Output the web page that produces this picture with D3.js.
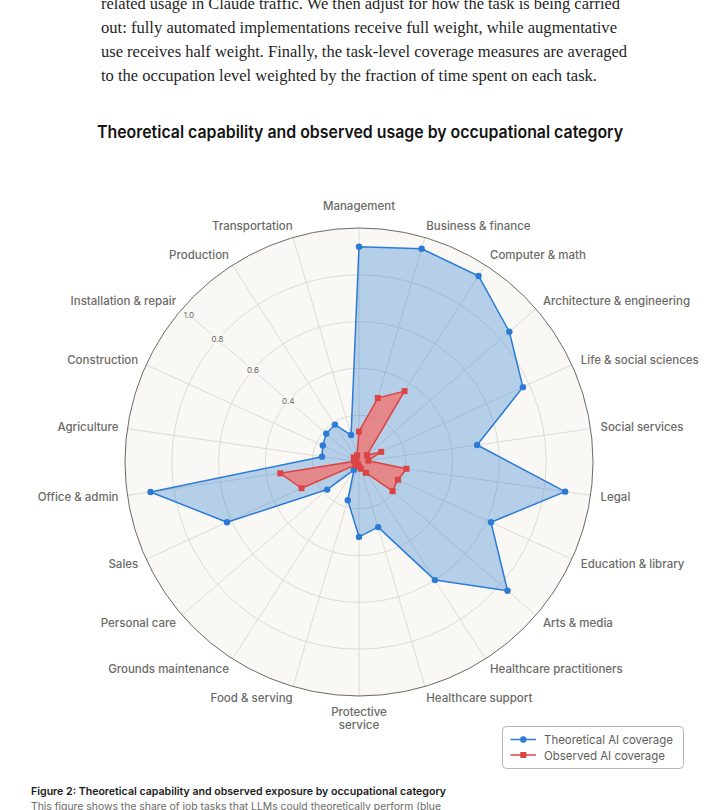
<!DOCTYPE html>
<html>
<head>
<meta charset="utf-8">
<script src="https://cdn.jsdelivr.net/npm/d3@7"></script>
<style>
  html, body { margin: 0; padding: 0; background: #ffffff; }
  svg { display: block; }
</style>
</head>
<body>
<svg id="chart" width="720" height="810"></svg>
<script>
// ---------- data ----------
const paragraphLines = [
  "related usage in Claude traffic. We then adjust for how the task is being carried",
  "out: fully automated implementations receive full weight, while augmentative",
  "use receives half weight. Finally, the task-level coverage measures are averaged",
  "to the occupation level weighted by the fraction of time spent on each task."
];
const chartTitle = "Theoretical capability and observed usage by occupational category";
const categories = [
  "Management", "Business & finance", "Computer & math", "Architecture & engineering",
  "Life & social sciences", "Social services", "Legal", "Education & library",
  "Arts & media", "Healthcare practitioners", "Healthcare support", "Protective service",
  "Food & serving", "Grounds maintenance", "Personal care", "Sales", "Office & admin",
  "Agriculture", "Construction", "Installation & repair", "Production", "Transportation"
];
const theoretical = [
  0.92, 0.95, 0.945, 0.85, 0.77, 0.51, 0.89, 0.62, 0.84, 0.60, 0.29,
  0.32, 0.17, 0.04, 0.18, 0.62, 0.90, 0.16, 0.17, 0.185, 0.19, 0.12
];
const observed = [
  0.13, 0.285, 0.36, 0.045, 0.104, 0.04, 0.205, 0.183, 0.19, 0.055, 0.03,
  0.02, 0.015, 0.01, 0.02, 0.27, 0.34, 0.02, 0.02, 0.03, 0.02, 0.03
];
const gridValues = [0.2, 0.4, 0.6, 0.8, 1.0];
const tickLabelValues = [0.4, 0.6, 0.8, 1.0];
const tickLabelCategory = "Installation & repair";
const seriesNames = ["Theoretical AI coverage", "Observed AI coverage"];
const captionTitle = "Figure 2: Theoretical capability and observed exposure by occupational category";
const captionText = "This figure shows the share of job tasks that LLMs could theoretically perform (blue";

// ---------- layout ----------
const svg = d3.select("#chart");
const cx = 359, cy = 462, R = 234;
const sansFont = "Inter, 'Noto Sans', 'DejaVu Sans', sans-serif";
const serifFont = "'Liberation Serif', 'DejaVu Serif', serif";
const blue = "#2b7bd6", red = "#db4444";
const bg = "#f9f8f4";

// paragraph
const paraWidths = [519, 516, 526, 496];
svg.append("g").selectAll("text").data(paragraphLines).join("text")
  .attr("x", 101).attr("y", (d, i) => 9 + i * 24)
  .attr("font-family", serifFont).attr("font-size", 16.5).attr("fill", "#1f1f1f")
  .attr("textLength", (d, i) => paraWidths[i]).attr("lengthAdjust", "spacingAndGlyphs")
  .text(d => d);

// title
svg.append("text").attr("x", 97).attr("y", 138)
  .attr("font-family", sansFont).attr("font-weight", 600).attr("font-size", 17)
  .attr("fill", "#141413").attr("textLength", 526).attr("lengthAdjust", "spacingAndGlyphs")
  .text(chartTitle);

// scales
const r = d3.scaleLinear().domain([0, 1]).range([0, R]);
const angle = d3.scaleLinear().domain([0, categories.length]).range([0, 2 * Math.PI]);

const g = svg.append("g").attr("transform", `translate(${cx},${cy})`);

// background
g.append("circle").attr("r", r(1)).attr("fill", bg);

// grid rings
g.append("g").selectAll("circle").data(gridValues.filter(v => v < 1)).join("circle")
  .attr("r", d => r(d)).attr("fill", "none").attr("stroke", "#dddbd5").attr("stroke-width", 1);

// spokes
g.append("g").selectAll("line").data(categories).join("line")
  .attr("x1", 0).attr("y1", 0)
  .attr("x2", (d, i) => r(1) * Math.sin(angle(i)))
  .attr("y2", (d, i) => -r(1) * Math.cos(angle(i)))
  .attr("stroke", "#dddbd5").attr("stroke-width", 1);

// tick labels
const ti = categories.indexOf(tickLabelCategory);
g.append("g").selectAll("text").data(tickLabelValues).join("text")
  .attr("x", d => Math.min(r(d), r(1) - 9) * Math.sin(angle(ti)))
  .attr("y", d => -Math.min(r(d), r(1) - 9) * Math.cos(angle(ti)))
  .attr("text-anchor", "middle").attr("dominant-baseline", "central")
  .attr("font-family", sansFont).attr("font-size", 8).attr("fill", "#666")
  .attr("stroke", bg).attr("stroke-width", 4).attr("paint-order", "stroke")
  .text(d => d.toFixed(1));

// outer circle
g.append("circle").attr("r", r(1)).attr("fill", "none").attr("stroke", "#6a6a66").attr("stroke-width", 1);

// series
const radial = d3.lineRadial()
  .angle((d, i) => angle(i)).radius(d => r(d)).curve(d3.curveLinearClosed);

function drawSeries(values, color, fill, shape) {
  const s = g.append("g");
  s.append("path").attr("d", radial(values))
    .attr("fill", fill).attr("stroke", color).attr("stroke-width", 1.5).attr("stroke-linejoin", "round");
  if (shape === "circle") {
    s.selectAll("circle").data(values).join("circle")
      .attr("cx", (d, i) => r(d) * Math.sin(angle(i)))
      .attr("cy", (d, i) => -r(d) * Math.cos(angle(i)))
      .attr("r", 3.2).attr("fill", color);
  } else {
    s.selectAll("rect").data(values).join("rect")
      .attr("x", (d, i) => r(d) * Math.sin(angle(i)) - 3)
      .attr("y", (d, i) => -r(d) * Math.cos(angle(i)) - 3)
      .attr("width", 6).attr("height", 6).attr("fill", color);
  }
}
drawSeries(theoretical, blue, "rgba(43,123,214,0.33)", "circle");
drawSeries(observed, red, "rgba(242,115,112,0.78)", "square");

// category labels
const labelR = R + 12;
const labels = g.append("g").attr("font-family", sansFont).attr("font-size", 11.5)
  .attr("font-weight", 500).attr("fill", "#6b6a66");
categories.forEach((c, i) => {
  const a = angle(i);
  const sx = Math.sin(a), cy2 = Math.cos(a);
  const x = labelR * sx, y = -labelR * cy2;
  if (Math.abs(sx) < 0.01) {
    if (cy2 > 0) {
      labels.append("text").attr("text-anchor", "middle")
        .attr("x", x).attr("y", y - 6).text(c);
    } else {
      c.split(" ").forEach((w, k) => {
        labels.append("text").attr("text-anchor", "middle")
          .attr("x", x).attr("y", y + 7.5 + k * 13.5).text(w);
      });
    }
  } else {
    labels.append("text").attr("text-anchor", sx > 0 ? "start" : "end")
      .attr("dominant-baseline", "central")
      .attr("x", x + (sx > 0 ? -2 : 3)).attr("y", y).text(c);
  }
});

// legend
const lg = svg.append("g");
lg.append("rect").attr("x", 502.5).attr("y", 726.5).attr("width", 181).attr("height", 42)
  .attr("rx", 4).attr("fill", "#fff").attr("stroke", "#b5b5b5");
const legendItems = [
  { name: seriesNames[0], color: blue, shape: "circle" },
  { name: seriesNames[1], color: red, shape: "square" }
];
legendItems.forEach((it, k) => {
  const y = 739.5 + k * 15.5;
  lg.append("line").attr("x1", 510.5).attr("x2", 536).attr("y1", y).attr("y2", y)
    .attr("stroke", it.color).attr("stroke-width", 1.5);
  if (it.shape === "circle") {
    lg.append("circle").attr("cx", 523.3).attr("cy", y).attr("r", 3.2).attr("fill", it.color);
  } else {
    lg.append("rect").attr("x", 520.3).attr("y", y - 3).attr("width", 6).attr("height", 6).attr("fill", it.color);
  }
  lg.append("text").attr("x", 544).attr("y", y).attr("dominant-baseline", "central")
    .attr("font-family", sansFont).attr("font-size", 12).attr("fill", "#5e5d59")
    .attr("textLength", k === 0 ? 129 : 121).attr("lengthAdjust", "spacingAndGlyphs")
    .text(it.name);
});

// caption
svg.append("text").attr("x", 31).attr("y", 795)
  .attr("font-family", sansFont).attr("font-weight", 600).attr("font-size", 10.5).attr("fill", "#1a1a1a")
  .attr("textLength", 415).attr("lengthAdjust", "spacingAndGlyphs")
  .text(captionTitle);
svg.append("text").attr("x", 31).attr("y", 810)
  .attr("font-family", sansFont).attr("font-size", 10.5).attr("fill", "#6b6a66")
  .attr("textLength", 410).attr("lengthAdjust", "spacingAndGlyphs")
  .text(captionText);
</script>
</body>
</html>
